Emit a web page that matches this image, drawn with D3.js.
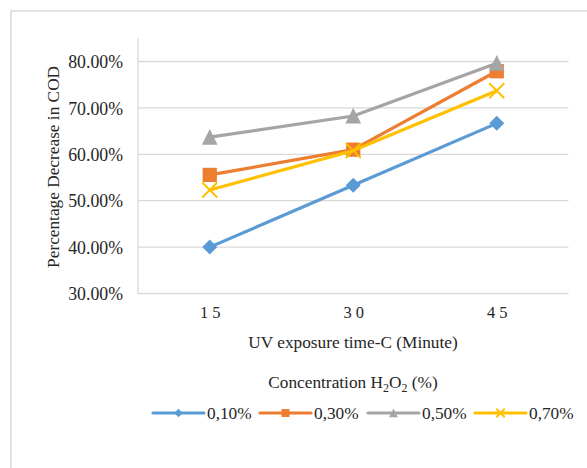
<!DOCTYPE html>
<html>
<head>
<meta charset="utf-8">
<script src="https://cdn.jsdelivr.net/npm/d3@7"></script>
<style>
  html, body { margin: 0; padding: 0; background: #fff; }
  svg { display: block; }
  svg text { font-family: "Liberation Serif", "Times New Roman", "DejaVu Serif", serif !important; }
</style>
</head>
<body>
<svg id="chart" width="587" height="468"></svg>
<script>
// Exposure times (minutes) shown on the category axis
const categories = ["1 5", "3 0", "4 5"];
// Percentage decrease in COD for each H2O2 concentration
const conc010 = [0.4000, 0.5333, 0.6667];
const conc030 = [0.5556, 0.6100, 0.7790];
const conc050 = [0.6370, 0.6825, 0.7960];
const conc070 = [0.5230, 0.6080, 0.7370];
const seriesNames = ["0,10%", "0,30%", "0,50%", "0,70%"];
const yTicks = [0.3, 0.4, 0.5, 0.6, 0.7, 0.8];

const series = [
  { name: seriesNames[0], values: conc010, color: "#5B9BD5", marker: "diamond" },
  { name: seriesNames[1], values: conc030, color: "#ED7D31", marker: "square" },
  { name: seriesNames[2], values: conc050, color: "#A5A5A5", marker: "triangle" },
  { name: seriesNames[3], values: conc070, color: "#FFC000", marker: "cross" }
];

const svg = d3.select("#chart");
const grid = "#d9d9d9";
const textColor = "#262626";
const fs = 17.3;

// outer chart frame (runs off the right and bottom edges)
svg.append("rect")
  .attr("x", 11).attr("y", 11).attr("width", 620).attr("height", 500)
  .attr("fill", "none").attr("stroke", grid).attr("stroke-width", 1.5);

const plot = { left: 138, right: 568.5, top: 38.3, bottom: 293.5 };

const x = d3.scalePoint().domain(categories)
  .range([plot.left, plot.right]).padding(0.5);
const y = d3.scaleLinear().domain([0.3, 0.85])
  .range([plot.bottom, plot.top]);

// horizontal gridlines
svg.append("g").selectAll("line").data(yTicks).join("line")
  .attr("x1", plot.left).attr("x2", plot.right)
  .attr("y1", d => y(d)).attr("y2", d => y(d))
  .attr("stroke", grid).attr("stroke-width", 1.3);

// vertical axis line
svg.append("line")
  .attr("x1", plot.left).attr("x2", plot.left)
  .attr("y1", plot.top).attr("y2", plot.bottom)
  .attr("stroke", grid).attr("stroke-width", 1.3);

// y tick labels
const yAxis = d3.axisLeft(y).tickValues(yTicks)
  .tickFormat(d => (d * 100).toFixed(2) + "%").tickSize(0).tickPadding(15);
const gy = svg.append("g").attr("transform", `translate(${plot.left},0)`).call(yAxis);
gy.select(".domain").remove();
gy.selectAll("text").attr("font-size", 17.8).attr("fill", textColor).attr("dy", "0.35em");

// x tick labels
const xAxis = d3.axisBottom(x).tickSize(0).tickPadding(13);
const gx = svg.append("g").attr("transform", `translate(0,${plot.bottom})`).call(xAxis);
gx.select(".domain").remove();
gx.selectAll("text").attr("font-size", 16.5).attr("fill", textColor);

// axis titles
svg.append("text")
  .attr("transform", `translate(59,${(plot.top + plot.bottom) / 2 + 1}) rotate(-90)`)
  .attr("text-anchor", "middle").attr("font-size", fs).attr("fill", textColor)
  .text("Percentage Decrease in COD");

svg.append("text")
  .attr("x", 353).attr("y", 348)
  .attr("text-anchor", "middle").attr("font-size", fs).attr("fill", textColor)
  .text("UV exposure time-C (Minute)");

// marker drawing
function drawMarker(g, type, color, s) {
  if (type === "diamond") {
    g.append("path").attr("d", `M0,${-s}L${s},0L0,${s}L${-s},0Z`).attr("fill", color);
  } else if (type === "square") {
    g.append("rect").attr("x", -s * 0.95).attr("y", -s * 0.95)
      .attr("width", s * 1.9).attr("height", s * 1.9).attr("fill", color);
  } else if (type === "triangle") {
    g.append("path").attr("d", `M0,${-s * 1.1}L${s * 1.05},${s * 1.0}L${-s * 1.05},${s * 1.0}Z`).attr("fill", color);
  } else if (type === "cross") {
    g.append("path").attr("d", `M${-s},${-s}L${s},${s}M${s},${-s}L${-s},${s}`)
      .attr("stroke", color).attr("stroke-width", 2).attr("fill", "none");
  }
}

const line = d3.line().x((d, i) => x(categories[i])).y(d => y(d));

series.forEach(s => {
  const g = svg.append("g");
  g.append("path").datum(s.values)
    .attr("d", line).attr("fill", "none")
    .attr("stroke", s.color).attr("stroke-width", 3.2)
    .attr("stroke-linejoin", "round");
  s.values.forEach((v, i) => {
    const m = g.append("g").attr("transform", `translate(${x(categories[i])},${y(v)})`);
    drawMarker(m, s.marker, s.color, 7.5);
  });
});

// legend
svg.append("text")
  .attr("x", 353).attr("y", 388)
  .attr("text-anchor", "middle").attr("font-size", fs).attr("fill", textColor)
  .html('Concentration H<tspan font-size="12" dy="4">2</tspan><tspan dy="-4">O</tspan><tspan font-size="12" dy="4">2</tspan><tspan dy="-4"> (%)</tspan>');

const legendX = [153, 260, 368, 475];
const legendY = 413;
series.forEach((s, i) => {
  const g = svg.append("g").attr("transform", `translate(${legendX[i]},${legendY})`);
  g.append("line").attr("x1", 0).attr("x2", 51).attr("y1", 0).attr("y2", 0)
    .attr("stroke", s.color).attr("stroke-width", 3.2).attr("stroke-linecap", "round");
  const m = g.append("g").attr("transform", "translate(25.5,0)");
  drawMarker(m, s.marker, s.color, 4.2);
  g.append("text").attr("x", 54).attr("y", 0).attr("dy", "0.35em")
    .attr("font-size", fs).attr("fill", textColor).text(s.name);
});
</script>
</body>
</html>
